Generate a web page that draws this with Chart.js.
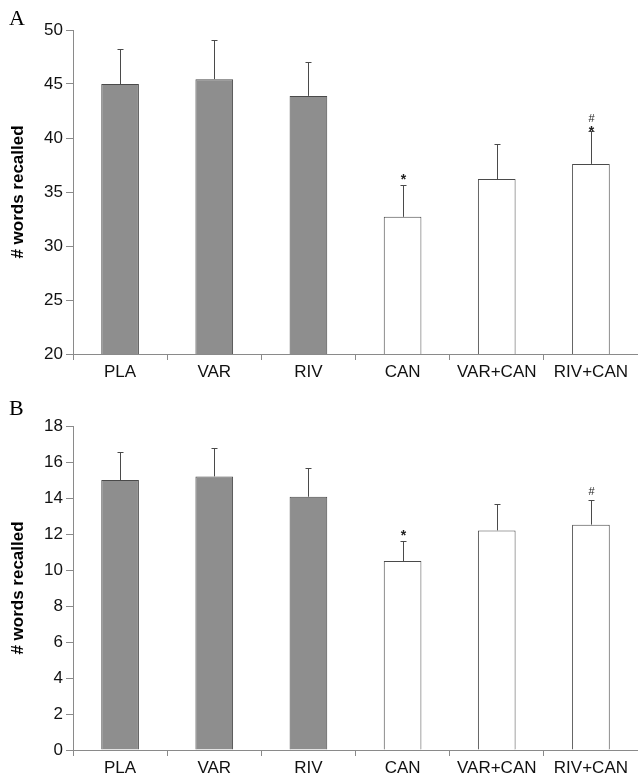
<!DOCTYPE html>
<html>
<head>
<meta charset="utf-8">
<script src="https://cdn.jsdelivr.net/npm/chart.js@4"></script>
<style>
  html, body { margin: 0; padding: 0; background: #fff; }
  #wrap { position: relative; width: 638px; height: 779px; overflow: hidden; }
  .panel { position: absolute; left: 0; width: 638px; }
  .letter { position: absolute; left: 9px; font: 22px "Liberation Serif", "DejaVu Serif", serif; color: #000; }
</style>
</head>
<body>
<div id="wrap">
  <div class="panel" style="top:0;height:390px"><canvas id="chartA"></canvas></div>
  <div class="panel" style="top:390px;height:389px"><canvas id="chartB"></canvas></div>
  <div class="letter" style="top:5px">A</div>
  <div class="letter" style="top:395px">B</div>
</div>
<script>
// Groups on the x axis
const categories = ['PLA', 'VAR', 'RIV', 'CAN', 'VAR+CAN', 'RIV+CAN'];

// Panel A: means and upper error (SEM) values
const meansA = [45.0, 45.45, 43.9, 32.7, 36.2, 37.6];
const errA   = [3.25, 3.6, 3.1, 2.95, 3.25, 3.05];
const marksA = [[], [], [], ['*'], [], ['*', '#']];

// Panel B
const meansB = [15.0, 15.2, 14.07, 10.5, 12.2, 12.52];
const errB   = [1.56, 1.58, 1.58, 1.09, 1.45, 1.38];
const marksB = [[], [], [], ['*'], [], ['#']];

const fills = ['#8e8e8e', '#8e8e8e', '#8e8e8e', '#ffffff', '#ffffff', '#ffffff'];
const AXIS = '#8a8a8a';
const EDGE = '#4a4a4a';

// draws the upper error whiskers and the significance marks
const errorBarPlugin = {
  id: 'errorBars',
  afterDatasetsDraw(chart, args, opts) {
    const ctx = chart.ctx;
    const y = chart.scales.y;
    const meta = chart.getDatasetMeta(0);
    ctx.save();
    meta.data.forEach((bar, i) => {
      const top = y.getPixelForValue(opts.means[i]);
      const hi = Math.round(y.getPixelForValue(opts.means[i] + opts.errs[i])) + 0.5;
      const x = Math.round(bar.x) + 0.5;
      ctx.strokeStyle = EDGE;
      ctx.lineWidth = 1;
      ctx.beginPath();
      ctx.moveTo(x, top);
      ctx.lineTo(x, hi);
      ctx.moveTo(x - 3, hi);
      ctx.lineTo(x + 3, hi);
      ctx.stroke();
      ctx.fillStyle = '#222';
      ctx.textAlign = 'center';
      ctx.textBaseline = 'alphabetic';
      opts.marks[i].forEach((m, k) => {
        if (m === '*') {
          ctx.font = 'bold 14px "Liberation Sans", Arial, sans-serif';
          ctx.fillText(m, x, hi + (opts.marks[i].length > 1 ? 4 : -2));
        } else {
          ctx.font = '11px "Liberation Sans", Arial, sans-serif';
          ctx.fillText(m, x, hi - (k ? 10 : 6));
        }
      });
    });
    ctx.restore();
  }
};

function makeChart(id, means, errs, marks, yMin, yMax, step, padTop, xHeight) {
  return new Chart(document.getElementById(id), {
    type: 'bar',
    data: {
      labels: categories,
      datasets: [{
        data: means,
        backgroundColor: fills,
        borderColor: EDGE,
        borderWidth: 1,
        borderSkipped: 'bottom',
        categoryPercentage: 1,
        barPercentage: 0.4,
      }],
    },
    options: {
      responsive: true,
      maintainAspectRatio: false,
      animation: false,
      layout: { padding: { top: padTop, right: 0, left: 0, bottom: 0 } },
      plugins: {
        legend: { display: false },
        tooltip: { enabled: false },
        errorBars: { means, errs, marks },
      },
      scales: {
        x: {
          offset: true,
          grid: { display: true, offset: true, drawOnChartArea: false, drawTicks: true, tickLength: 6, color: AXIS },
          border: { display: true, color: AXIS },
          ticks: { color: '#111', font: { family: '"Liberation Sans", Arial, sans-serif', size: 17 }, padding: 2 },
          afterFit(scale) { scale.height = xHeight; },
        },
        y: {
          min: yMin,
          max: yMax,
          grid: { display: true, drawOnChartArea: false, drawTicks: true, tickLength: 7, color: AXIS },
          border: { display: true, color: AXIS },
          ticks: { stepSize: step, color: '#111', font: { family: '"Liberation Sans", Arial, sans-serif', size: 17 }, padding: 3 },
          title: {
            display: true,
            text: '# words recalled',
            color: '#000',
            font: { family: '"Liberation Sans", Arial, sans-serif', size: 17, weight: 'bold' },
            padding: { top: 8, bottom: 0 },
          },
          afterFit(scale) { scale.width = 73; },
        },
      },
    },
    plugins: [errorBarPlugin],
  });
}

makeChart('chartA', meansA, errA, marksA, 20, 50, 5, 30, 36);
makeChart('chartB', meansB, errB, marksB, 0, 18, 2, 36, 29);
</script>
</body>
</html>
